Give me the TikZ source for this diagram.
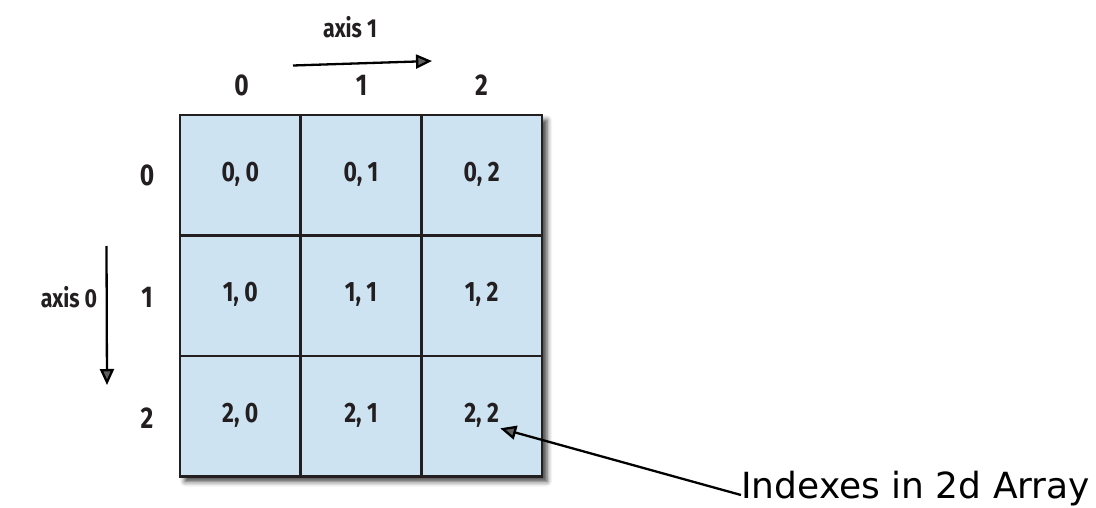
\documentclass[tikz,border=0pt]{standalone}
\usepackage{fontspec}
\setmainfont{Fira Sans}
\newfontfamily\condf[FakeStretch=0.82]{Fira Sans}
\newfontfamily\comicf{DejaVu Sans}
\usetikzlibrary{arrows.meta,shadows.blur}
\definecolor{cellblue}{RGB}{205,227,241}
\definecolor{edge}{RGB}{35,31,32}
\tikzset{
  cell/.style={draw=edge,line width=2.8pt,fill=cellblue,minimum size=120.7pt,inner sep=0pt,anchor=center},
  celltxt/.style={font=\condf\bfseries\fontsize{28}{28}\selectfont,text=edge,inner sep=1pt},
  idx/.style={font=\condf\bfseries\fontsize{30}{30}\selectfont,text=edge,inner sep=1pt},
  axlab/.style={font=\condf\bfseries\fontsize{26}{26}\selectfont,text=edge,inner sep=1pt},
  arr/.style={line width=2.3pt,-{Triangle[length=16pt,width=14pt]}},
}
\begin{document}
\begin{tikzpicture}[x=1pt,y=-1pt]
\useasboundingbox (0,0) rectangle (1096,508);
% shadow behind grid
\fill[white,blur shadow={shadow xshift=5pt,shadow yshift=-5pt,shadow blur radius=5pt,shadow opacity=75}] (180,115) rectangle (542,476.5);
\foreach \r in {0,1,2}{
  \foreach \c in {0,1,2}{
    \node[cell] (c\r\c) at ({240.3+120.7*\c},{175.3+120.5*\r}) {};
    \node[celltxt] (t\r\c) at ({240.3+120.7*\c},{174+120.5*\r}) {\r, \c};
  }
}
% column indices
\node[idx] (col0) at (241.5,85) {0};
\node[idx] (col1) at (361.5,85) {1};
\node[idx] (col2) at (481.5,85) {2};
% row indices
\node[idx] (row0) at (147,175) {0};
\node[idx] (row1) at (147,297) {1};
\node[idx] (row2) at (147,418) {2};
% axis labels
\node[axlab] (ax1) at (350,27) {axis 1};
\node[axlab] (ax0) at (69,297) {axis 0};
\coordinate (a1s) at (293,65.5);
\coordinate (a1e) at (432,61);
\draw[arr] (a1s) -- (a1e);
\coordinate (a0s) at (106.5,246);
\coordinate (a0e) at (107,385);
\draw[arr] (a0s) -- (a0e);
% annotation
\node[font=\comicf\fontsize{36}{36}\selectfont,anchor=west,inner sep=0pt] (note) at (741,489) {Indexes in 2d Array};
\draw[arr] ([yshift=-6pt]note.west) -- (t22.south east);
\end{tikzpicture}
\end{document}
